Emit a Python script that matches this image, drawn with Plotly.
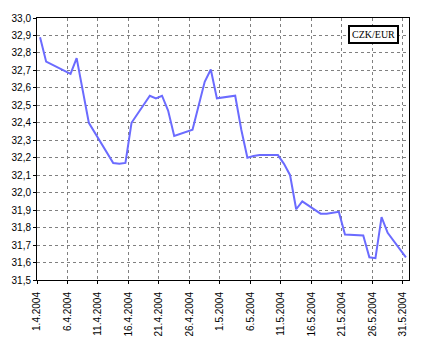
import pandas as pd
import plotly.graph_objects as go

dates = ["2004-04-01", "2004-04-02", "2004-04-06", "2004-04-07", "2004-04-09",
         "2004-04-13", "2004-04-14", "2004-04-15", "2004-04-16", "2004-04-19",
         "2004-04-20", "2004-04-21", "2004-04-22", "2004-04-23", "2004-04-26",
         "2004-04-27", "2004-04-28", "2004-04-29", "2004-04-30", "2004-05-03",
         "2004-05-04", "2004-05-05", "2004-05-06", "2004-05-07", "2004-05-10",
         "2004-05-11", "2004-05-12", "2004-05-13", "2004-05-14", "2004-05-17",
         "2004-05-18", "2004-05-19", "2004-05-20", "2004-05-21", "2004-05-24",
         "2004-05-25", "2004-05-26", "2004-05-27", "2004-05-28", "2004-05-31"]
czk_eur = [32.89, 32.75, 32.68, 32.77, 32.40,
           32.17, 32.165, 32.17, 32.40, 32.555,
           32.54, 32.555, 32.47, 32.325, 32.36,
           32.50, 32.635, 32.705, 32.54, 32.555,
           32.36, 32.20, 32.21, 32.215, 32.215,
           32.165, 32.10, 31.905, 31.95, 31.88,
           31.88, 31.885, 31.89, 31.76, 31.755,
           31.63, 31.625, 31.86, 31.77, 31.63]
series_name = "CZK/EUR"
y_min, y_max = 31.5, 33.0
x_start, x_end = "2004-04-01", "2004-06-01"

# points sit in the middle of each day slot
x = pd.to_datetime(dates) + pd.Timedelta(hours=12)

fig = go.Figure()
fig.add_trace(go.Scatter(x=x, y=czk_eur, mode="lines", name=series_name,
                         line=dict(color="#6b6bff", width=2)))

font = dict(family="Liberation Sans, Arial, sans-serif", size=10, color="black")

fig.update_layout(
    width=422, height=349,
    margin=dict(l=34, r=12, t=14, b=64),
    paper_bgcolor="white", plot_bgcolor="white",
    showlegend=False,
    separators=", ",
    font=font,
    xaxis=dict(
        type="date", range=[x_start, x_end],
        tick0=x_start, dtick=5 * 86400000, tickformat="%-d.%-m.%Y",
        tickangle=-90, ticks="outside", ticklen=3, tickcolor="black",
        ticklabelstandoff=4,
        showgrid=True, gridcolor="#808080", griddash="3px,3px", gridwidth=1,
        showline=True, linecolor="black", linewidth=1, mirror=True,
        tickfont=font, zeroline=False,
    ),
    yaxis=dict(
        range=[y_min, y_max], dtick=0.1, tick0=y_min, tickformat=".1f",
        ticks="outside", ticklen=3, tickcolor="black",
        showgrid=True, gridcolor="#808080", griddash="3px,3px", gridwidth=1,
        showline=True, linecolor="black", linewidth=1, mirror=True,
        tickfont=font, zeroline=False,
    ),
    annotations=[dict(
        text=series_name, xref="paper", yref="paper", x=0.973, y=0.975,
        xanchor="right", yanchor="top", showarrow=False,
        font=dict(family="Liberation Serif, Times New Roman, serif", size=10, color="black"),
        bordercolor="black", borderwidth=2, borderpad=2, bgcolor="white",
    )],
)

fig.write_html("out.html")
